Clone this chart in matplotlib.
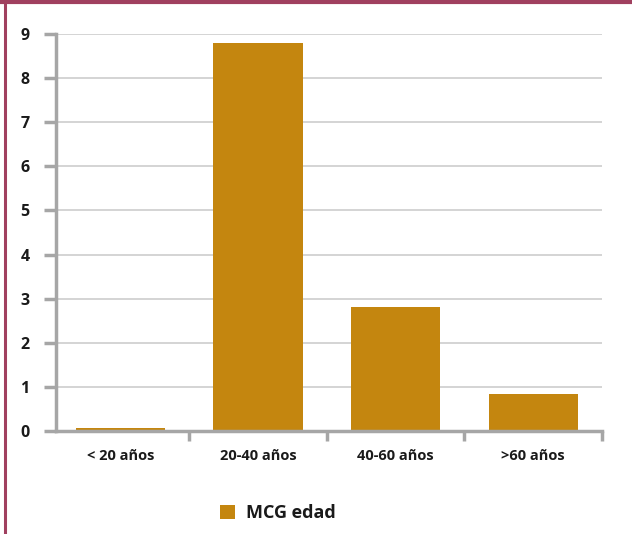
import matplotlib
matplotlib.use("Agg")
import matplotlib.pyplot as plt
from matplotlib.lines import Line2D

categories = ["< 20 años", "20-40 años", "40-60 años", ">60 años"]
values = [0.07, 8.8, 2.8, 0.85]
y_ticks = [0, 1, 2, 3, 4, 5, 6, 7, 8, 9]
series_name = "MCG edad"

bar_color = "#C4860F"
axis_color = "#A6A6A6"
grid_color = "#CDCDCD"
frame_color = "#A0405F"
text_color = "#1A1A1A"

plt.rcParams["font.family"] = ["Open Sans", "DejaVu Sans"]

fig = plt.figure(figsize=(6.32, 5.34), dpi=100)
ax = fig.add_axes([56 / 632, (534 - 431) / 534, (602 - 56) / 632, (431 - 34) / 534])

x = list(range(len(categories)))
ax.bar(x, values, width=0.65, color=bar_color, zorder=3, label=series_name)

ax.set_xlim(-0.47, len(categories) - 0.5)
ax.set_ylim(0, 9)
ax.set_yticks(y_ticks)
ax.set_yticklabels([str(v) for v in y_ticks], fontsize=11.5, fontweight="bold", color=text_color)
ax.yaxis.grid(True, color=grid_color, linewidth=1.2, zorder=0)
ax.set_axisbelow(True)

# category boundaries as tick marks below the axis
ax.set_xticks([i + 0.5 for i in range(len(categories))])
ax.set_xticklabels([])
ax.set_xticks(x, minor=True)
ax.set_xticklabels(categories, minor=True, fontsize=10.5, fontweight="bold", color=text_color)
ax.tick_params(axis="x", which="major", length=7, width=2.5, color=axis_color, direction="out")
ax.tick_params(axis="x", which="minor", length=0, pad=13)
ax.tick_params(axis="y", length=9, width=2.5, color=axis_color, pad=10)

for side in ("top", "right"):
    ax.spines[side].set_visible(False)
for side in ("left", "bottom"):
    ax.spines[side].set_color(axis_color)
    ax.spines[side].set_linewidth(2.5)
    ax.spines[side].set_zorder(4)

leg = fig.legend(loc="center", bbox_to_anchor=(278 / 632, 1 - 513 / 534), frameon=False,
                 prop={"size": 13, "weight": "bold"}, handlelength=0.8, handleheight=0.8,
                 handletextpad=0.6)
for t in leg.get_texts():
    t.set_color(text_color)

# outer frame on top and left edges
fig.add_artist(Line2D([0, 1], [1 - 1.5 / 534, 1 - 1.5 / 534], transform=fig.transFigure,
                      color=frame_color, linewidth=3))
fig.add_artist(Line2D([5 / 632, 5 / 632], [0, 1], transform=fig.transFigure,
                      color=frame_color, linewidth=2.2))

fig.savefig("out.png", dpi=100)
